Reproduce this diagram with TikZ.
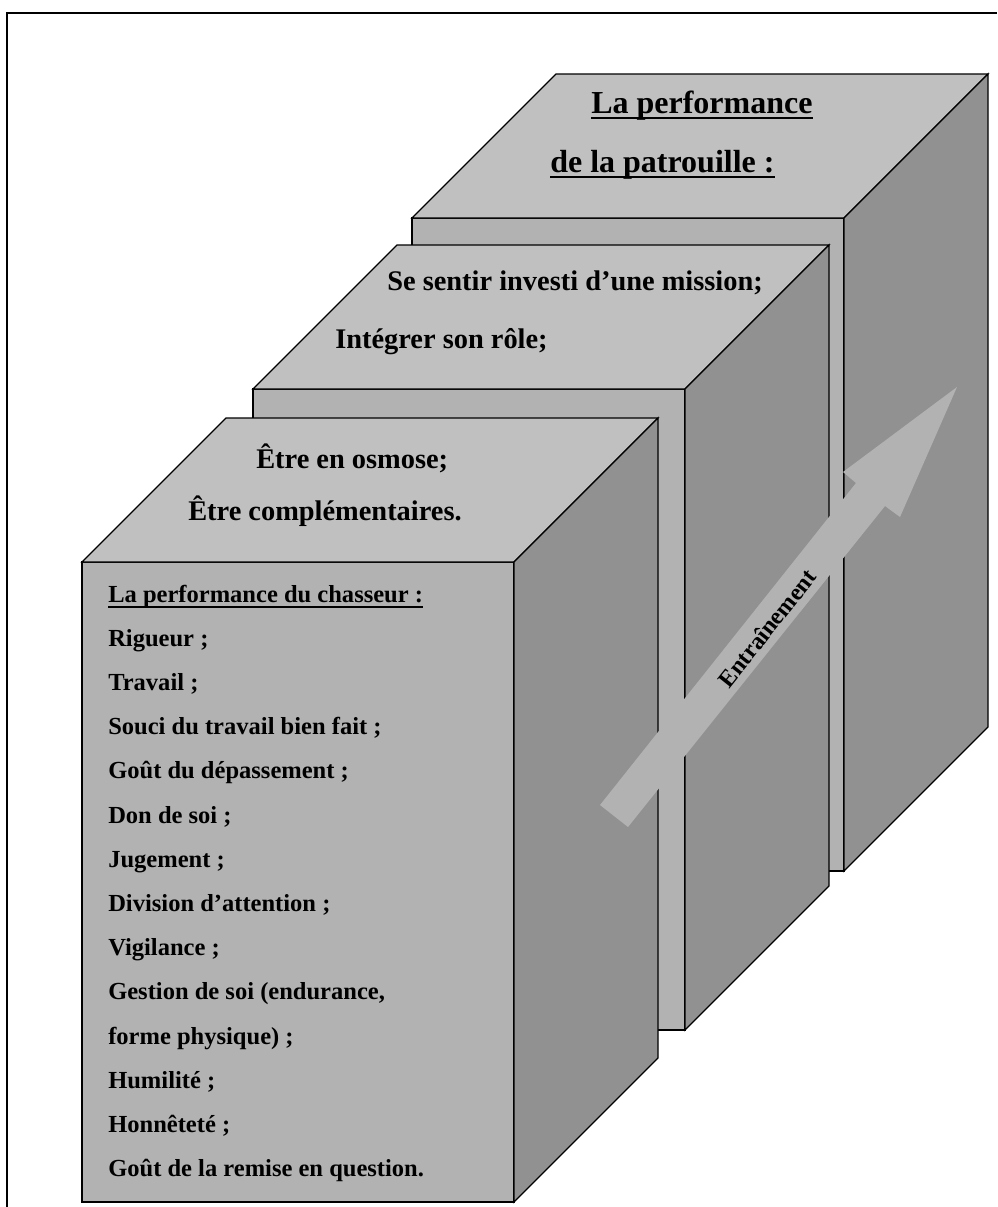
\documentclass[tikz,border=0pt]{standalone}
\usepackage{fontspec}
\setmainfont{Liberation Serif}
\usepackage{xcolor}
\usepackage{tikz}
\usetikzlibrary{positioning}

\definecolor{dessus}{HTML}{C0C0C0}
\definecolor{devant}{HTML}{B2B2B2}
\definecolor{cote}{HTML}{919191}

\begin{document}
\begin{tikzpicture}[x=0.75pt, y=-0.75pt,
        topface/.style={fill=dessus, draw=black, line width=1pt},
        frontface/.style={fill=devant, draw=black, line width=1pt},
        sideface/.style={fill=cote, draw=black, line width=1pt},
        titre/.style={font=\bfseries\fontsize{24}{28}\selectfont, anchor=base west, inner sep=0pt},
        toit/.style={font=\bfseries\fontsize{21.3}{25}\selectfont, anchor=base west, inner sep=0pt},
        liste/.style={font=\bfseries\fontsize{18.4}{22}\selectfont, anchor=base west, inner sep=0pt},
        souligne/.style={line width=1.3pt}]
        \useasboundingbox (0,0) rectangle (997,1207);

        % Cadre
        \draw[line width=1.3pt] (7,1207) -- (7,13) -- (997,13);

        % Blocs (coin avant gauche, hauteur)
        \foreach \x/\y/\h in {412/218/653, 253/389/641, 82/562/640} {
            \filldraw[frontface] (\x,\y) rectangle ++(432,\h);
            \filldraw[topface] (\x,\y) -- ++(432,0) -- ++(144,-144) -- ++(-432,0) -- cycle;
            \filldraw[sideface] (\x+432,\y) -- ++(144,-144) -- ++(0,\h) -- ++(-144,144) -- cycle;
        }

        % Patrouille
        \node[titre] (perf) at (591,113) {La performance};
        \node[titre] (patrouille) at (550,172) {de la patrouille :};

        % Roles
        \node[toit] (mission) at (387,290) {Se sentir investi d’une mission;};
        \node[toit] (role) at (335,348) {Intégrer son rôle;};
        \node[toit] (osmose) at (256,468) {Être en osmose;};
        \node[toit] (complement) at (188,520) {Être complémentaires.};

        % Chasseur
        \node[liste] (chasseur) at (108,602) {La performance du chasseur :};
        \foreach \t [count=\i] in {Rigueur ;, Travail ;, Souci du travail bien fait ;,
            Goût du dépassement ;, Don de soi ;, Jugement ;, Division d’attention ;,
            Vigilance ;, {Gestion de soi (endurance,}, forme physique) ;, Humilité ;,
            Honnêteté ;, Goût de la remise en question.} {
            \node[liste] (qualite\i) at (108,602+44.2*\i) {\t};
        }

        % Soulignements
        \foreach \n in {perf, patrouille, chasseur} {
            \draw[souligne] ([yshift=-3.8pt]\n.base west) -- ([yshift=-3.8pt]\n.base east);
        }

        % Entrainement
        \fill[devant] (600,805) -- (856,483) -- (843,472) -- (957,387) -- (900,517) -- (885,506) -- (628,827) -- cycle;
        \node[rotate=51.5, font=\bfseries\fontsize{18}{20}\selectfont] (entrainement) at (767,628) {Entraînement};

    \end{tikzpicture}
\end{document}
